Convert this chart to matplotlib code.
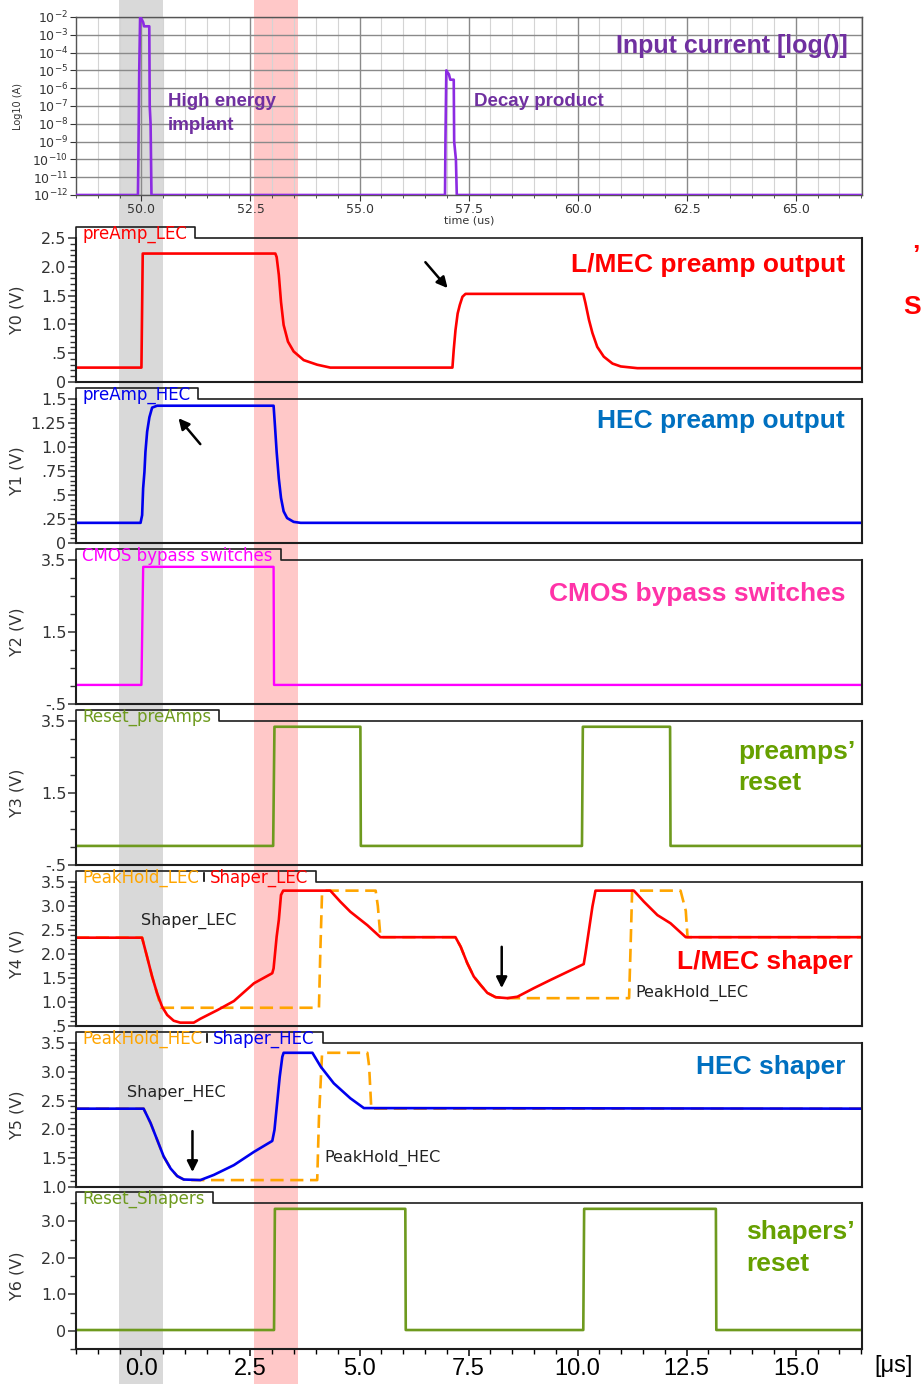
import matplotlib
matplotlib.use('Agg')
import matplotlib.pyplot as plt
import matplotlib.transforms as mtransforms
import numpy as np
from matplotlib.lines import Line2D
from matplotlib.patches import Rectangle
from matplotlib.ticker import MultipleLocator, NullLocator, FormatStrFormatter

# ---- data (time in us) ----
input_time = [48.5, 49.92, 49.93, 49.95, 49.97, 49.99, 50.04, 50.06, 50.18, 50.19, 50.21, 50.23,
              56.96, 56.97, 56.99, 57.0, 57.05, 57.08, 57.16, 57.17, 57.21, 57.23, 66.52]
input_current = [1e-12, 1e-12, 1e-10, 1e-5, 1e-2, 9e-3, 5e-3, 3e-3, 3e-3, 1e-7, 1e-8, 1e-12,
                 1e-12, 1e-9, 1e-5, 9e-6, 6e-6, 3e-6, 3e-6, 1e-9, 1e-10, 1e-12, 1e-12]

pre_lec_t = [-1.5, 0.0, 0.03, 3.07, 3.10, 3.15, 3.20, 3.26, 3.36, 3.49, 3.72, 4.03, 4.33,
             7.13, 7.16, 7.2, 7.25, 7.30, 7.36, 7.43, 10.13, 10.18, 10.26, 10.34, 10.45,
             10.60, 10.80, 10.99, 11.37, 16.52]
pre_lec_v = [0.25, 0.25, 2.23, 2.23, 2.17, 1.86, 1.39, 0.99, 0.70, 0.53, 0.38, 0.30, 0.25,
             0.25, 0.56, 0.90, 1.19, 1.34, 1.48, 1.53, 1.53, 1.37, 1.08, 0.85, 0.61,
             0.44, 0.32, 0.27, 0.24, 0.24]

pre_hec_t = [-1.5, -0.02, 0.016, 0.039, 0.069, 0.092, 0.131, 0.183, 0.245, 0.36, 3.03, 3.06,
             3.10, 3.15, 3.20, 3.26, 3.34, 3.49, 3.65, 16.52]
pre_hec_v = [0.21, 0.21, 0.29, 0.57, 0.74, 0.95, 1.16, 1.31, 1.41, 1.43, 1.43, 1.23,
             0.95, 0.67, 0.47, 0.33, 0.26, 0.22, 0.21, 0.21]

cmos_t = [-1.5, 0.0, 0.04, 3.03, 3.04, 16.52]
cmos_v = [0.03, 0.03, 3.31, 3.31, 0.03, 0.03]

reset_pre_t = [-1.5, 3.02, 3.05, 5.02, 5.03, 10.10, 10.12, 12.12, 12.13, 16.52]
reset_pre_v = [0.03, 0.03, 3.34, 3.34, 0.03, 0.03, 3.34, 3.34, 0.03, 0.03]

shaper_lec_t = [-1.5, 0.015, 0.13, 0.245, 0.36, 0.475, 0.59, 0.74, 0.89, 1.2, 1.35, 1.74, 2.12,
                2.58, 3.0, 3.03, 3.10, 3.15, 3.20, 3.25, 4.33, 4.56, 4.79, 5.18, 5.48,
                7.2, 7.32, 7.47, 7.62, 7.78, 7.93, 8.12, 8.39, 8.62, 9.0, 9.38, 10.14,
                10.18, 10.26, 10.34, 10.41, 11.29, 11.52, 11.83, 12.13, 12.48, 16.52]
shaper_lec_v = [2.34, 2.34, 1.94, 1.53, 1.18, 0.90, 0.73, 0.61, 0.57, 0.57, 0.65, 0.83, 1.02,
                1.39, 1.60, 1.70, 2.36, 2.71, 3.23, 3.32, 3.32, 3.09, 2.88, 2.60, 2.35,
                2.35, 2.15, 1.81, 1.53, 1.35, 1.19, 1.10, 1.08, 1.11, 1.29, 1.46, 1.79,
                2.01, 2.50, 2.99, 3.32, 3.32, 3.09, 2.81, 2.64, 2.35, 2.35]

peak_lec_t = [-1.5, 0.015, 0.13, 0.245, 0.36, 0.45, 4.07, 4.10, 4.14, 4.20, 5.37, 5.42, 5.48,
              7.2, 7.32, 7.47, 7.62, 7.78, 7.93, 8.12, 8.30, 11.18, 11.21, 11.25, 12.36,
              12.48, 12.52, 16.52]
peak_lec_v = [2.34, 2.34, 1.94, 1.53, 1.18, 0.88, 0.88, 2.0, 3.25, 3.32, 3.32, 3.0, 2.35,
              2.35, 2.15, 1.81, 1.53, 1.35, 1.19, 1.10, 1.08, 1.08, 2.0, 3.32, 3.32,
              2.9, 2.35, 2.35]

shaper_hec_t = [-1.5, 0.05, 0.21, 0.36, 0.51, 0.67, 0.82, 0.97, 1.35, 1.66, 2.12, 2.58, 3.0,
                3.05, 3.11, 3.17, 3.23, 3.26, 3.92, 4.11, 4.41, 4.79, 5.10, 16.52]
shaper_hec_v = [2.36, 2.36, 2.11, 1.82, 1.53, 1.32, 1.19, 1.13, 1.12, 1.21, 1.38, 1.61, 1.80,
                1.99, 2.45, 2.91, 3.26, 3.33, 3.33, 3.09, 2.80, 2.54, 2.37, 2.36]

peak_hec_t = [-1.5, 0.05, 0.21, 0.36, 0.51, 0.67, 0.82, 0.97, 1.10, 4.03, 4.07, 4.14, 4.20,
              5.18, 5.22, 5.27, 16.52]
peak_hec_v = [2.36, 2.36, 2.11, 1.82, 1.53, 1.32, 1.19, 1.13, 1.12, 1.12, 2.2, 3.3, 3.33,
              3.33, 3.1, 2.36, 2.36]

reset_sh_t = [-1.5, 3.04, 3.06, 6.05, 6.06, 10.13, 10.15, 13.17, 13.18, 16.52]
reset_sh_v = [0.02, 0.02, 3.34, 3.34, 0.02, 0.02, 3.34, 3.34, 0.02, 0.02]

grey_band = (-0.52, 0.50)
red_band = (2.58, 3.59)

# ---- layout ----
W, H = 922, 1384
fig = plt.figure(figsize=(W / 100, H / 100), dpi=100)
fig.patch.set_facecolor('white')

RED = '#ff0000'
BLUE = '#0000ee'
MAGENTA = '#ff00ff'
OLIVE = '#6e9a1e'
ORANGE = '#ffa500'
PURPLE = '#8c2be2'
TICK_COL = '#333333'


def px_axes(top, bottom, left=76, right=862):
    ax = fig.add_axes([left / W, 1 - bottom / H, (right - left) / W, (bottom - top) / H])
    ax.set_facecolor('none')
    return ax


def ftext(x, y, s, **kw):
    return fig.text(x / W, 1 - y / H, s, **kw)


# top panel: input current
ax0 = px_axes(17, 195)
ax0.plot(input_time, input_current, color=PURPLE, lw=1.9, zorder=3)
ax0.set_yscale('log')
ax0.set_ylim(1e-12, 1e-2)
ax0.set_xlim(48.5, 66.52)
ax0.set_yticks([10.0 ** k for k in range(-12, -1)])
ax0.set_yticklabels([r'$10^{%d}$' % k for k in range(-12, -1)])
ax0.yaxis.set_minor_locator(NullLocator())
ax0.xaxis.set_major_locator(MultipleLocator(2.5))
ax0.xaxis.set_minor_locator(MultipleLocator(0.5))
ax0.xaxis.set_major_formatter(FormatStrFormatter('%.1f'))
ax0.set_axisbelow(True)
ax0.grid(which='major', axis='both', color='#8a8a8a', lw=1.0)
ax0.grid(which='minor', axis='x', color='#d4d4d4', lw=0.8)
ax0.tick_params(axis='both', which='both', labelsize=9, colors=TICK_COL, direction='out')
ax0.tick_params(axis='both', which='major', length=4, pad=1.5)
ax0.tick_params(axis='x', which='minor', length=2.5)
for sp in ax0.spines.values():
    sp.set_color('#555555')
    sp.set_linewidth(1.0)
ax0.set_ylabel('Log10 (A)', fontsize=7, color=TICK_COL)
ax0.yaxis.set_label_coords(-0.068, 0.5)
ax0.set_xlabel('time (us)', fontsize=8, color=TICK_COL, labelpad=0)

# lower panels
panels = [
    (238, 382, 'Y0 (V)', (0, 2.5), [0, .5, 1, 1.5, 2, 2.5],
     ['0', '.5', '1.0', '1.5', '2.0', '2.5'], 0.1),
    (399, 543, 'Y1 (V)', (0, 1.5), [0, .25, .5, .75, 1, 1.25, 1.5],
     ['0', '.25', '.5', '.75', '1.0', '1.25', '1.5'], 0.05),
    (560, 704, 'Y2 (V)', (-0.5, 3.5), [-.5, 1.5, 3.5], ['-.5', '1.5', '3.5'], 0.5),
    (721, 865, 'Y3 (V)', (-0.5, 3.5), [-.5, 1.5, 3.5], ['-.5', '1.5', '3.5'], 0.5),
    (882, 1026, 'Y4 (V)', (0.5, 3.5), [.5, 1, 1.5, 2, 2.5, 3, 3.5],
     ['.5', '1.0', '1.5', '2.0', '2.5', '3.0', '3.5'], 0.1),
    (1043, 1187, 'Y5 (V)', (1.0, 3.5), [1, 1.5, 2, 2.5, 3, 3.5],
     ['1.0', '1.5', '2.0', '2.5', '3.0', '3.5'], 0.1),
    (1203, 1349, 'Y6 (V)', (-0.5, 3.5), [0, 1, 2, 3], ['0', '1.0', '2.0', '3.0'], 0.5),
]

axes = []
for i, (top, bot, ylab, ylim, ticks, labels, minor) in enumerate(panels):
    ax = px_axes(top, bot)
    ax.set_xlim(-1.5, 16.52)
    ax.set_ylim(*ylim)
    ax.set_yticks(ticks)
    ax.set_yticklabels(labels)
    ax.yaxis.set_minor_locator(MultipleLocator(minor))
    ax.tick_params(axis='y', which='both', labelsize=11.5, colors=TICK_COL, direction='out', pad=1)
    ax.tick_params(axis='y', which='major', length=6, width=1.1)
    ax.tick_params(axis='y', which='minor', length=4, width=1.0)
    ax.spines['top'].set_visible(False)
    for sp in ('left', 'right', 'bottom'):
        ax.spines[sp].set_color('#1e1e1e')
        ax.spines[sp].set_linewidth(1.5)
    ax.set_ylabel(ylab, fontsize=11.5, color=TICK_COL)
    ax.yaxis.set_label_coords(-0.066, 0.5)
    if i < len(panels) - 1:
        ax.tick_params(axis='x', which='both', bottom=False, labelbottom=False)
    axes.append(ax)

ax1, ax2, ax3, ax4, ax5, ax6, ax7 = axes
lw = 1.9
ax1.plot(pre_lec_t, pre_lec_v, color=RED, lw=lw)
ax2.plot(pre_hec_t, pre_hec_v, color=BLUE, lw=lw)
ax3.plot(cmos_t, cmos_v, color=MAGENTA, lw=1.7)
ax4.plot(reset_pre_t, reset_pre_v, color=OLIVE, lw=lw)
ax5.plot(peak_lec_t, peak_lec_v, color=ORANGE, lw=lw, dashes=(5, 2.5))
ax5.plot(shaper_lec_t, shaper_lec_v, color=RED, lw=lw)
ax6.plot(peak_hec_t, peak_hec_v, color=ORANGE, lw=lw, dashes=(5, 2.5))
ax6.plot(shaper_hec_t, shaper_hec_v, color=BLUE, lw=lw)
ax7.plot(reset_sh_t, reset_sh_v, color=OLIVE, lw=lw)

# bottom time axis
ax7.xaxis.set_major_locator(MultipleLocator(2.5))
ax7.xaxis.set_minor_locator(MultipleLocator(0.5))
ax7.xaxis.set_major_formatter(FormatStrFormatter('%.1f'))
ax7.tick_params(axis='x', which='major', length=5, width=1.1, pad=1.5, direction='out')
ax7.tick_params(axis='x', which='minor', length=3.5, width=1.0, direction='out')
for lab in ax7.get_xticklabels():
    lab.set_fontfamily('Liberation Sans')
    lab.set_fontsize(17)
ftext(874, 1366, '[\u03bcs]', fontsize=17, family='Liberation Sans', va='center', ha='left')

# shaded time bands across the whole figure
band_tr = mtransforms.blended_transform_factory(ax7.transData, fig.transFigure)
for (a, b), col in ((grey_band, '#d9d9d9'), (red_band, '#ffc8c8')):
    fig.add_artist(Rectangle((a, 0), b - a, 1, transform=band_tr, facecolor=col,
                             edgecolor='none', zorder=-5))

# arrows
arrow_kw = dict(arrowstyle='-|>', color='black', lw=1.8, mutation_scale=16, shrinkA=0, shrinkB=0)
ax1.annotate('', xy=(7.02, 1.63), xytext=(6.51, 2.08), arrowprops=arrow_kw)
ax2.annotate('', xy=(0.85, 1.30), xytext=(1.35, 1.03), arrowprops=arrow_kw)
ax5.annotate('', xy=(8.26, 1.29), xytext=(8.26, 2.15), arrowprops=arrow_kw)
ax6.annotate('', xy=(1.17, 1.26), xytext=(1.17, 1.97), arrowprops=arrow_kw)

# small trace labels
ax5.text(-0.02, 2.69, 'Shaper_LEC', fontsize=11.5, color='#222222', va='center')
ax5.text(11.33, 1.19, 'PeakHold_LEC', fontsize=11.5, color='#222222', va='center')
ax6.text(-0.32, 2.63, 'Shaper_HEC', fontsize=11.5, color='#222222', va='center')
ax6.text(4.20, 1.50, 'PeakHold_HEC', fontsize=11.5, color='#222222', va='center')

# big annotations
bold = dict(family='Liberation Sans', fontweight='bold', va='center')
ftext(848, 46, 'Input current [log()]', fontsize=18, color='#7030a0', ha='right', **bold)
ftext(168, 102, 'High energy', fontsize=13.5, color='#7030a0', ha='left', **bold)
ftext(168, 125, 'implant', fontsize=13.5, color='#7030a0', ha='left', **bold)
ftext(474, 102, 'Decay product', fontsize=13.5, color='#7030a0', ha='left', **bold)
ftext(845, 265, 'L/MEC preamp output', fontsize=19, color=RED, ha='right', **bold)
ftext(845, 421, 'HEC preamp output', fontsize=19, color='#0070c0', ha='right', **bold)
ftext(845, 594, 'CMOS bypass switches', fontsize=19, color='#ff33a8', ha='right', **bold)
ftext(738, 752, 'preamps\u2019', fontsize=19, color='#66a000', ha='left', **bold)
ftext(738, 783, 'reset', fontsize=19, color='#66a000', ha='left', **bold)
ftext(853, 962, 'L/MEC shaper', fontsize=19, color=RED, ha='right', **bold)
ftext(845, 1067, 'HEC shaper', fontsize=19, color='#0070c0', ha='right', **bold)
ftext(746, 1232, 'shapers\u2019', fontsize=19, color='#66a000', ha='left', **bold)
ftext(746, 1264, 'reset', fontsize=19, color='#66a000', ha='left', **bold)
ftext(903, 307, 'S', fontsize=19, color=RED, ha='left', **bold)
ftext(912, 256, '\u2019', fontsize=19, color=RED, ha='left', **bold)

# folder-style name tabs above each lower panel
fig.canvas.draw()
renderer = fig.canvas.get_renderer()


def add_tab(ax, parts):
    pos = ax.get_position()
    left, top, right = pos.x0 * W, pos.y1 * H, pos.x1 * W
    x = left + 6
    for k, (label, color) in enumerate(parts):
        if k > 0:
            fig.add_artist(Line2D([(x + 5) / W] * 2, [(top + 1) / H, (top + 9) / H],
                                  color='black', lw=1.2))
            x += 11
        t = fig.text(x / W, (top - 1) / H, label, color=color, fontsize=12,
                     ha='left', va='baseline')
        x = t.get_window_extent(renderer).x1
    tab_r = x + 8
    fig.add_artist(Line2D([left / W, left / W, tab_r / W, tab_r / W, right / W],
                          [top / H, (top + 11) / H, (top + 11) / H, top / H, top / H],
                          color='#1e1e1e', lw=1.2))


add_tab(ax1, [('preAmp_LEC', RED)])
add_tab(ax2, [('preAmp_HEC', BLUE)])
add_tab(ax3, [('CMOS bypass switches', MAGENTA)])
add_tab(ax4, [('Reset_preAmps', OLIVE)])
add_tab(ax5, [('PeakHold_LEC', ORANGE), ('Shaper_LEC', RED)])
add_tab(ax6, [('PeakHold_HEC', ORANGE), ('Shaper_HEC', BLUE)])
add_tab(ax7, [('Reset_Shapers', OLIVE)])

fig.savefig('out.png', dpi=100, facecolor='white')
